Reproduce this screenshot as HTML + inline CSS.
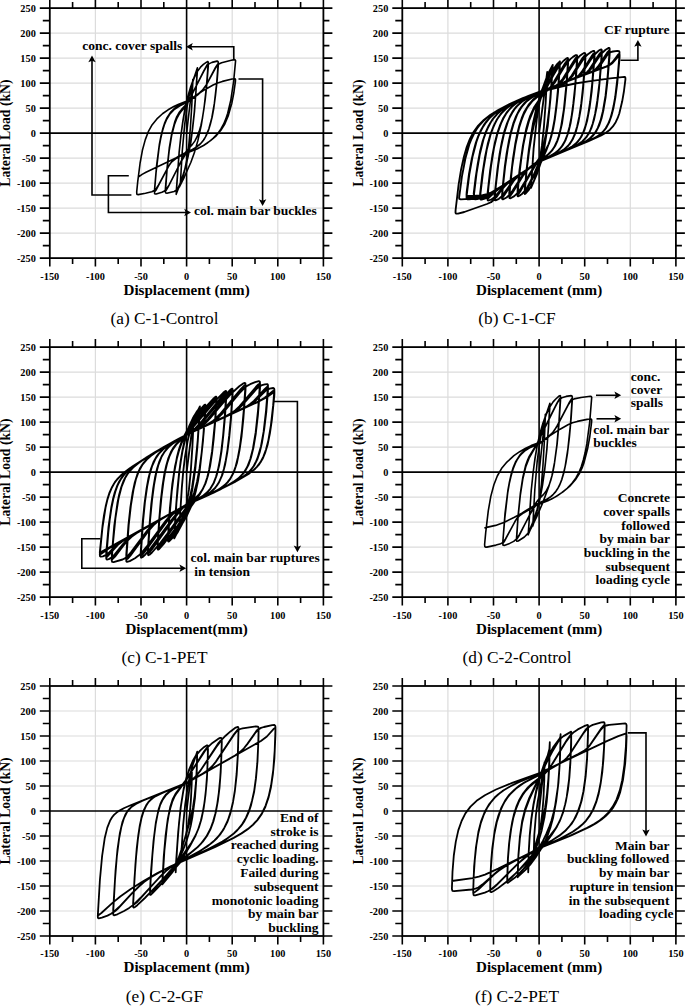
<!DOCTYPE html>
<html><head><meta charset="utf-8"><style>
html,body{margin:0;padding:0;background:#fff;width:685px;height:1008px;overflow:hidden}
svg{display:block}
text{font-family:"Liberation Serif",serif;fill:#000}
.tl text{font-weight:bold;font-size:10.3px}
.at{font-weight:bold;font-size:15.1px}
.cap{font-size:17.3px}
.an{font-weight:bold;font-size:13.5px}
</style></head><body>
<svg width="685" height="1008" viewBox="0 0 685 1008">
<rect width="685" height="1008" fill="#fff"/>
<path d="M95.4 8.1V258.1M141 8.1V258.1M232.2 8.1V258.1M277.8 8.1V258.1M49.8 233.1H323.4M49.8 208.1H323.4M49.8 183.1H323.4M49.8 158.1H323.4M49.8 108.1H323.4M49.8 83.1H323.4M49.8 58.1H323.4M49.8 33.1H323.4" stroke="#dcdcdc" stroke-width="1.2" fill="none"/>
<path d="M186.6 8.1V258.1M49.8 133.1H323.4" stroke="#000" stroke-width="1.6" fill="none"/>
<path d="M39.8 258.1H49.8M323.4 258.1H332.4M42.8 245.6H49.8M323.4 245.6H329.4M39.8 233.1H49.8M323.4 233.1H332.4M42.8 220.6H49.8M323.4 220.6H329.4M39.8 208.1H49.8M323.4 208.1H332.4M42.8 195.6H49.8M323.4 195.6H329.4M39.8 183.1H49.8M323.4 183.1H332.4M42.8 170.6H49.8M323.4 170.6H329.4M39.8 158.1H49.8M323.4 158.1H332.4M42.8 145.6H49.8M323.4 145.6H329.4M39.8 133.1H49.8M323.4 133.1H332.4M42.8 120.6H49.8M323.4 120.6H329.4M39.8 108.1H49.8M323.4 108.1H332.4M42.8 95.6H49.8M323.4 95.6H329.4M39.8 83.1H49.8M323.4 83.1H332.4M42.8 70.6H49.8M323.4 70.6H329.4M39.8 58.1H49.8M323.4 58.1H332.4M42.8 45.6H49.8M323.4 45.6H329.4M39.8 33.1H49.8M323.4 33.1H332.4M42.8 20.6H49.8M323.4 20.6H329.4M39.8 8.1H49.8M323.4 8.1H332.4M49.8 0.1V8.1M49.8 258.1V266.6M72.6 2.1V8.1M72.6 258.1V264.1M95.4 0.1V8.1M95.4 258.1V266.6M118.2 2.1V8.1M118.2 258.1V264.1M141 0.1V8.1M141 258.1V266.6M163.8 2.1V8.1M163.8 258.1V264.1M186.6 0.1V8.1M186.6 258.1V266.6M209.4 2.1V8.1M209.4 258.1V264.1M232.2 0.1V8.1M232.2 258.1V266.6M255 2.1V8.1M255 258.1V264.1M277.8 0.1V8.1M277.8 258.1V266.6M300.6 2.1V8.1M300.6 258.1V264.1M323.4 0.1V8.1M323.4 258.1V266.6" stroke="#000" stroke-width="1.6" fill="none"/>
<rect x="49.8" y="8.1" width="273.6" height="250" stroke="#000" stroke-width="1.8" fill="none"/>
<g class="tl"><text x="35.8" y="261.6" text-anchor="end">-250</text><text x="35.8" y="236.6" text-anchor="end">-200</text><text x="35.8" y="211.6" text-anchor="end">-150</text><text x="35.8" y="186.6" text-anchor="end">-100</text><text x="35.8" y="161.6" text-anchor="end">-50</text><text x="35.8" y="136.6" text-anchor="end">0</text><text x="35.8" y="111.6" text-anchor="end">50</text><text x="35.8" y="86.6" text-anchor="end">100</text><text x="35.8" y="61.6" text-anchor="end">150</text><text x="35.8" y="36.6" text-anchor="end">200</text><text x="35.8" y="11.6" text-anchor="end">250</text><text x="49.8" y="279.5" text-anchor="middle">-150</text><text x="95.4" y="279.5" text-anchor="middle">-100</text><text x="141" y="279.5" text-anchor="middle">-50</text><text x="186.6" y="279.5" text-anchor="middle">0</text><text x="232.2" y="279.5" text-anchor="middle">50</text><text x="277.8" y="279.5" text-anchor="middle">100</text><text x="323.4" y="279.5" text-anchor="middle">150</text></g>
<text class="at" x="186.6" y="294.5" text-anchor="middle">Displacement (mm)</text>
<text class="at" transform="translate(10.3 133.1) rotate(-90)" text-anchor="middle" style="font-size:13.7px">Lateral Load (kN)</text>
<text class="cap" x="164.5" y="324.4" text-anchor="middle">(a) C-1-Control</text>
<path d="M447.9 8.1V258.1M493.5 8.1V258.1M584.7 8.1V258.1M630.3 8.1V258.1M402.3 233.1H675.9M402.3 208.1H675.9M402.3 183.1H675.9M402.3 158.1H675.9M402.3 108.1H675.9M402.3 83.1H675.9M402.3 58.1H675.9M402.3 33.1H675.9" stroke="#dcdcdc" stroke-width="1.2" fill="none"/>
<path d="M539.1 8.1V258.1M402.3 133.1H675.9" stroke="#000" stroke-width="1.6" fill="none"/>
<path d="M392.3 258.1H402.3M675.9 258.1H684.9M395.3 245.6H402.3M675.9 245.6H681.9M392.3 233.1H402.3M675.9 233.1H684.9M395.3 220.6H402.3M675.9 220.6H681.9M392.3 208.1H402.3M675.9 208.1H684.9M395.3 195.6H402.3M675.9 195.6H681.9M392.3 183.1H402.3M675.9 183.1H684.9M395.3 170.6H402.3M675.9 170.6H681.9M392.3 158.1H402.3M675.9 158.1H684.9M395.3 145.6H402.3M675.9 145.6H681.9M392.3 133.1H402.3M675.9 133.1H684.9M395.3 120.6H402.3M675.9 120.6H681.9M392.3 108.1H402.3M675.9 108.1H684.9M395.3 95.6H402.3M675.9 95.6H681.9M392.3 83.1H402.3M675.9 83.1H684.9M395.3 70.6H402.3M675.9 70.6H681.9M392.3 58.1H402.3M675.9 58.1H684.9M395.3 45.6H402.3M675.9 45.6H681.9M392.3 33.1H402.3M675.9 33.1H684.9M395.3 20.6H402.3M675.9 20.6H681.9M392.3 8.1H402.3M675.9 8.1H684.9M402.3 0.1V8.1M402.3 258.1V266.6M425.1 2.1V8.1M425.1 258.1V264.1M447.9 0.1V8.1M447.9 258.1V266.6M470.7 2.1V8.1M470.7 258.1V264.1M493.5 0.1V8.1M493.5 258.1V266.6M516.3 2.1V8.1M516.3 258.1V264.1M539.1 0.1V8.1M539.1 258.1V266.6M561.9 2.1V8.1M561.9 258.1V264.1M584.7 0.1V8.1M584.7 258.1V266.6M607.5 2.1V8.1M607.5 258.1V264.1M630.3 0.1V8.1M630.3 258.1V266.6M653.1 2.1V8.1M653.1 258.1V264.1M675.9 0.1V8.1M675.9 258.1V266.6" stroke="#000" stroke-width="1.6" fill="none"/>
<rect x="402.3" y="8.1" width="273.6" height="250" stroke="#000" stroke-width="1.8" fill="none"/>
<g class="tl"><text x="388.3" y="261.6" text-anchor="end">-250</text><text x="388.3" y="236.6" text-anchor="end">-200</text><text x="388.3" y="211.6" text-anchor="end">-150</text><text x="388.3" y="186.6" text-anchor="end">-100</text><text x="388.3" y="161.6" text-anchor="end">-50</text><text x="388.3" y="136.6" text-anchor="end">0</text><text x="388.3" y="111.6" text-anchor="end">50</text><text x="388.3" y="86.6" text-anchor="end">100</text><text x="388.3" y="61.6" text-anchor="end">150</text><text x="388.3" y="36.6" text-anchor="end">200</text><text x="388.3" y="11.6" text-anchor="end">250</text><text x="402.3" y="279.5" text-anchor="middle">-150</text><text x="447.9" y="279.5" text-anchor="middle">-100</text><text x="493.5" y="279.5" text-anchor="middle">-50</text><text x="539.1" y="279.5" text-anchor="middle">0</text><text x="584.7" y="279.5" text-anchor="middle">50</text><text x="630.3" y="279.5" text-anchor="middle">100</text><text x="675.9" y="279.5" text-anchor="middle">150</text></g>
<text class="at" x="539.1" y="294.5" text-anchor="middle">Displacement (mm)</text>
<text class="at" transform="translate(362.8 133.1) rotate(-90)" text-anchor="middle" style="font-size:13.7px">Lateral Load (kN)</text>
<text class="cap" x="517" y="324.4" text-anchor="middle">(b) C-1-CF</text>
<path d="M95.4 347.1V597.1M141 347.1V597.1M232.2 347.1V597.1M277.8 347.1V597.1M49.8 572.1H323.4M49.8 547.1H323.4M49.8 522.1H323.4M49.8 497.1H323.4M49.8 447.1H323.4M49.8 422.1H323.4M49.8 397.1H323.4M49.8 372.1H323.4" stroke="#dcdcdc" stroke-width="1.2" fill="none"/>
<path d="M186.6 347.1V597.1M49.8 472.1H323.4" stroke="#000" stroke-width="1.6" fill="none"/>
<path d="M39.8 597.1H49.8M323.4 597.1H332.4M42.8 584.6H49.8M323.4 584.6H329.4M39.8 572.1H49.8M323.4 572.1H332.4M42.8 559.6H49.8M323.4 559.6H329.4M39.8 547.1H49.8M323.4 547.1H332.4M42.8 534.6H49.8M323.4 534.6H329.4M39.8 522.1H49.8M323.4 522.1H332.4M42.8 509.6H49.8M323.4 509.6H329.4M39.8 497.1H49.8M323.4 497.1H332.4M42.8 484.6H49.8M323.4 484.6H329.4M39.8 472.1H49.8M323.4 472.1H332.4M42.8 459.6H49.8M323.4 459.6H329.4M39.8 447.1H49.8M323.4 447.1H332.4M42.8 434.6H49.8M323.4 434.6H329.4M39.8 422.1H49.8M323.4 422.1H332.4M42.8 409.6H49.8M323.4 409.6H329.4M39.8 397.1H49.8M323.4 397.1H332.4M42.8 384.6H49.8M323.4 384.6H329.4M39.8 372.1H49.8M323.4 372.1H332.4M42.8 359.6H49.8M323.4 359.6H329.4M39.8 347.1H49.8M323.4 347.1H332.4M49.8 339.1V347.1M49.8 597.1V605.6M72.6 341.1V347.1M72.6 597.1V603.1M95.4 339.1V347.1M95.4 597.1V605.6M118.2 341.1V347.1M118.2 597.1V603.1M141 339.1V347.1M141 597.1V605.6M163.8 341.1V347.1M163.8 597.1V603.1M186.6 339.1V347.1M186.6 597.1V605.6M209.4 341.1V347.1M209.4 597.1V603.1M232.2 339.1V347.1M232.2 597.1V605.6M255 341.1V347.1M255 597.1V603.1M277.8 339.1V347.1M277.8 597.1V605.6M300.6 341.1V347.1M300.6 597.1V603.1M323.4 339.1V347.1M323.4 597.1V605.6" stroke="#000" stroke-width="1.6" fill="none"/>
<rect x="49.8" y="347.1" width="273.6" height="250" stroke="#000" stroke-width="1.8" fill="none"/>
<g class="tl"><text x="35.8" y="600.6" text-anchor="end">-250</text><text x="35.8" y="575.6" text-anchor="end">-200</text><text x="35.8" y="550.6" text-anchor="end">-150</text><text x="35.8" y="525.6" text-anchor="end">-100</text><text x="35.8" y="500.6" text-anchor="end">-50</text><text x="35.8" y="475.6" text-anchor="end">0</text><text x="35.8" y="450.6" text-anchor="end">50</text><text x="35.8" y="425.6" text-anchor="end">100</text><text x="35.8" y="400.6" text-anchor="end">150</text><text x="35.8" y="375.6" text-anchor="end">200</text><text x="35.8" y="350.6" text-anchor="end">250</text><text x="49.8" y="618.5" text-anchor="middle">-150</text><text x="95.4" y="618.5" text-anchor="middle">-100</text><text x="141" y="618.5" text-anchor="middle">-50</text><text x="186.6" y="618.5" text-anchor="middle">0</text><text x="232.2" y="618.5" text-anchor="middle">50</text><text x="277.8" y="618.5" text-anchor="middle">100</text><text x="323.4" y="618.5" text-anchor="middle">150</text></g>
<text class="at" x="186.6" y="633.5" text-anchor="middle">Displacement(mm)</text>
<text class="at" transform="translate(10.3 472.1) rotate(-90)" text-anchor="middle" style="font-size:13.7px">Lateral Load (kN)</text>
<text class="cap" x="164.5" y="663.4" text-anchor="middle">(c) C-1-PET</text>
<path d="M447.9 347.1V597.1M493.5 347.1V597.1M584.7 347.1V597.1M630.3 347.1V597.1M402.3 572.1H675.9M402.3 547.1H675.9M402.3 522.1H675.9M402.3 497.1H675.9M402.3 447.1H675.9M402.3 422.1H675.9M402.3 397.1H675.9M402.3 372.1H675.9" stroke="#dcdcdc" stroke-width="1.2" fill="none"/>
<path d="M539.1 347.1V597.1M402.3 472.1H675.9" stroke="#000" stroke-width="1.6" fill="none"/>
<path d="M392.3 597.1H402.3M675.9 597.1H684.9M395.3 584.6H402.3M675.9 584.6H681.9M392.3 572.1H402.3M675.9 572.1H684.9M395.3 559.6H402.3M675.9 559.6H681.9M392.3 547.1H402.3M675.9 547.1H684.9M395.3 534.6H402.3M675.9 534.6H681.9M392.3 522.1H402.3M675.9 522.1H684.9M395.3 509.6H402.3M675.9 509.6H681.9M392.3 497.1H402.3M675.9 497.1H684.9M395.3 484.6H402.3M675.9 484.6H681.9M392.3 472.1H402.3M675.9 472.1H684.9M395.3 459.6H402.3M675.9 459.6H681.9M392.3 447.1H402.3M675.9 447.1H684.9M395.3 434.6H402.3M675.9 434.6H681.9M392.3 422.1H402.3M675.9 422.1H684.9M395.3 409.6H402.3M675.9 409.6H681.9M392.3 397.1H402.3M675.9 397.1H684.9M395.3 384.6H402.3M675.9 384.6H681.9M392.3 372.1H402.3M675.9 372.1H684.9M395.3 359.6H402.3M675.9 359.6H681.9M392.3 347.1H402.3M675.9 347.1H684.9M402.3 339.1V347.1M402.3 597.1V605.6M425.1 341.1V347.1M425.1 597.1V603.1M447.9 339.1V347.1M447.9 597.1V605.6M470.7 341.1V347.1M470.7 597.1V603.1M493.5 339.1V347.1M493.5 597.1V605.6M516.3 341.1V347.1M516.3 597.1V603.1M539.1 339.1V347.1M539.1 597.1V605.6M561.9 341.1V347.1M561.9 597.1V603.1M584.7 339.1V347.1M584.7 597.1V605.6M607.5 341.1V347.1M607.5 597.1V603.1M630.3 339.1V347.1M630.3 597.1V605.6M653.1 341.1V347.1M653.1 597.1V603.1M675.9 339.1V347.1M675.9 597.1V605.6" stroke="#000" stroke-width="1.6" fill="none"/>
<rect x="402.3" y="347.1" width="273.6" height="250" stroke="#000" stroke-width="1.8" fill="none"/>
<g class="tl"><text x="388.3" y="600.6" text-anchor="end">-250</text><text x="388.3" y="575.6" text-anchor="end">-200</text><text x="388.3" y="550.6" text-anchor="end">-150</text><text x="388.3" y="525.6" text-anchor="end">-100</text><text x="388.3" y="500.6" text-anchor="end">-50</text><text x="388.3" y="475.6" text-anchor="end">0</text><text x="388.3" y="450.6" text-anchor="end">50</text><text x="388.3" y="425.6" text-anchor="end">100</text><text x="388.3" y="400.6" text-anchor="end">150</text><text x="388.3" y="375.6" text-anchor="end">200</text><text x="388.3" y="350.6" text-anchor="end">250</text><text x="402.3" y="618.5" text-anchor="middle">-150</text><text x="447.9" y="618.5" text-anchor="middle">-100</text><text x="493.5" y="618.5" text-anchor="middle">-50</text><text x="539.1" y="618.5" text-anchor="middle">0</text><text x="584.7" y="618.5" text-anchor="middle">50</text><text x="630.3" y="618.5" text-anchor="middle">100</text><text x="675.9" y="618.5" text-anchor="middle">150</text></g>
<text class="at" x="539.1" y="633.5" text-anchor="middle">Displacement (mm)</text>
<text class="at" transform="translate(362.8 472.1) rotate(-90)" text-anchor="middle" style="font-size:13.7px">Lateral Load (kN)</text>
<text class="cap" x="517" y="663.4" text-anchor="middle">(d) C-2-Control</text>
<path d="M95.4 686V936M141 686V936M232.2 686V936M277.8 686V936M49.8 911H323.4M49.8 886H323.4M49.8 861H323.4M49.8 836H323.4M49.8 786H323.4M49.8 761H323.4M49.8 736H323.4M49.8 711H323.4" stroke="#dcdcdc" stroke-width="1.2" fill="none"/>
<path d="M186.6 686V936M49.8 811H323.4" stroke="#000" stroke-width="1.6" fill="none"/>
<path d="M39.8 936H49.8M323.4 936H332.4M42.8 923.5H49.8M323.4 923.5H329.4M39.8 911H49.8M323.4 911H332.4M42.8 898.5H49.8M323.4 898.5H329.4M39.8 886H49.8M323.4 886H332.4M42.8 873.5H49.8M323.4 873.5H329.4M39.8 861H49.8M323.4 861H332.4M42.8 848.5H49.8M323.4 848.5H329.4M39.8 836H49.8M323.4 836H332.4M42.8 823.5H49.8M323.4 823.5H329.4M39.8 811H49.8M323.4 811H332.4M42.8 798.5H49.8M323.4 798.5H329.4M39.8 786H49.8M323.4 786H332.4M42.8 773.5H49.8M323.4 773.5H329.4M39.8 761H49.8M323.4 761H332.4M42.8 748.5H49.8M323.4 748.5H329.4M39.8 736H49.8M323.4 736H332.4M42.8 723.5H49.8M323.4 723.5H329.4M39.8 711H49.8M323.4 711H332.4M42.8 698.5H49.8M323.4 698.5H329.4M39.8 686H49.8M323.4 686H332.4M49.8 678V686M49.8 936V944.5M72.6 680V686M72.6 936V942M95.4 678V686M95.4 936V944.5M118.2 680V686M118.2 936V942M141 678V686M141 936V944.5M163.8 680V686M163.8 936V942M186.6 678V686M186.6 936V944.5M209.4 680V686M209.4 936V942M232.2 678V686M232.2 936V944.5M255 680V686M255 936V942M277.8 678V686M277.8 936V944.5M300.6 680V686M300.6 936V942M323.4 678V686M323.4 936V944.5" stroke="#000" stroke-width="1.6" fill="none"/>
<rect x="49.8" y="686" width="273.6" height="250" stroke="#000" stroke-width="1.8" fill="none"/>
<g class="tl"><text x="35.8" y="939.5" text-anchor="end">-250</text><text x="35.8" y="914.5" text-anchor="end">-200</text><text x="35.8" y="889.5" text-anchor="end">-150</text><text x="35.8" y="864.5" text-anchor="end">-100</text><text x="35.8" y="839.5" text-anchor="end">-50</text><text x="35.8" y="814.5" text-anchor="end">0</text><text x="35.8" y="789.5" text-anchor="end">50</text><text x="35.8" y="764.5" text-anchor="end">100</text><text x="35.8" y="739.5" text-anchor="end">150</text><text x="35.8" y="714.5" text-anchor="end">200</text><text x="35.8" y="689.5" text-anchor="end">250</text><text x="49.8" y="957.4" text-anchor="middle">-150</text><text x="95.4" y="957.4" text-anchor="middle">-100</text><text x="141" y="957.4" text-anchor="middle">-50</text><text x="186.6" y="957.4" text-anchor="middle">0</text><text x="232.2" y="957.4" text-anchor="middle">50</text><text x="277.8" y="957.4" text-anchor="middle">100</text><text x="323.4" y="957.4" text-anchor="middle">150</text></g>
<text class="at" x="186.6" y="972.4" text-anchor="middle">Displacement (mm)</text>
<text class="at" transform="translate(10.3 811) rotate(-90)" text-anchor="middle" style="font-size:13.7px">Lateral Load (kN)</text>
<text class="cap" x="164.5" y="1002.3" text-anchor="middle">(e) C-2-GF</text>
<path d="M447.9 686V936M493.5 686V936M584.7 686V936M630.3 686V936M402.3 911H675.9M402.3 886H675.9M402.3 861H675.9M402.3 836H675.9M402.3 786H675.9M402.3 761H675.9M402.3 736H675.9M402.3 711H675.9" stroke="#dcdcdc" stroke-width="1.2" fill="none"/>
<path d="M539.1 686V936M402.3 811H675.9" stroke="#000" stroke-width="1.6" fill="none"/>
<path d="M392.3 936H402.3M675.9 936H684.9M395.3 923.5H402.3M675.9 923.5H681.9M392.3 911H402.3M675.9 911H684.9M395.3 898.5H402.3M675.9 898.5H681.9M392.3 886H402.3M675.9 886H684.9M395.3 873.5H402.3M675.9 873.5H681.9M392.3 861H402.3M675.9 861H684.9M395.3 848.5H402.3M675.9 848.5H681.9M392.3 836H402.3M675.9 836H684.9M395.3 823.5H402.3M675.9 823.5H681.9M392.3 811H402.3M675.9 811H684.9M395.3 798.5H402.3M675.9 798.5H681.9M392.3 786H402.3M675.9 786H684.9M395.3 773.5H402.3M675.9 773.5H681.9M392.3 761H402.3M675.9 761H684.9M395.3 748.5H402.3M675.9 748.5H681.9M392.3 736H402.3M675.9 736H684.9M395.3 723.5H402.3M675.9 723.5H681.9M392.3 711H402.3M675.9 711H684.9M395.3 698.5H402.3M675.9 698.5H681.9M392.3 686H402.3M675.9 686H684.9M402.3 678V686M402.3 936V944.5M425.1 680V686M425.1 936V942M447.9 678V686M447.9 936V944.5M470.7 680V686M470.7 936V942M493.5 678V686M493.5 936V944.5M516.3 680V686M516.3 936V942M539.1 678V686M539.1 936V944.5M561.9 680V686M561.9 936V942M584.7 678V686M584.7 936V944.5M607.5 680V686M607.5 936V942M630.3 678V686M630.3 936V944.5M653.1 680V686M653.1 936V942M675.9 678V686M675.9 936V944.5" stroke="#000" stroke-width="1.6" fill="none"/>
<rect x="402.3" y="686" width="273.6" height="250" stroke="#000" stroke-width="1.8" fill="none"/>
<g class="tl"><text x="388.3" y="939.5" text-anchor="end">-250</text><text x="388.3" y="914.5" text-anchor="end">-200</text><text x="388.3" y="889.5" text-anchor="end">-150</text><text x="388.3" y="864.5" text-anchor="end">-100</text><text x="388.3" y="839.5" text-anchor="end">-50</text><text x="388.3" y="814.5" text-anchor="end">0</text><text x="388.3" y="789.5" text-anchor="end">50</text><text x="388.3" y="764.5" text-anchor="end">100</text><text x="388.3" y="739.5" text-anchor="end">150</text><text x="388.3" y="714.5" text-anchor="end">200</text><text x="388.3" y="689.5" text-anchor="end">250</text><text x="402.3" y="957.4" text-anchor="middle">-150</text><text x="447.9" y="957.4" text-anchor="middle">-100</text><text x="493.5" y="957.4" text-anchor="middle">-50</text><text x="539.1" y="957.4" text-anchor="middle">0</text><text x="584.7" y="957.4" text-anchor="middle">50</text><text x="630.3" y="957.4" text-anchor="middle">100</text><text x="675.9" y="957.4" text-anchor="middle">150</text></g>
<text class="at" x="539.1" y="972.4" text-anchor="middle">Displacement (mm)</text>
<text class="at" transform="translate(362.8 811) rotate(-90)" text-anchor="middle" style="font-size:13.7px">Lateral Load (kN)</text>
<text class="cap" x="517" y="1002.3" text-anchor="middle">(f) C-2-PET</text>
<path d="M186.6,133.1 192.9,79.4 191.8,105.2 190.4,127.7 188.8,145.1 187.0,159.0 184.1,172.7 180.3,184.4 182.3,150.8 184.7,124.4 187.1,106.5 189.7,93.3 192.7,81.7 197.4,67.8 196.0,91.1 194.3,112.1 192.4,129.5 190.3,144.3 187.9,156.6 184.3,171.1 180.8,182.1 176.2,194.3 179.1,152.6 180.9,135.7 182.8,121.3 184.9,109.0 187.6,97.3 190.7,86.7 194.3,76.8 197.4,69.8 197.4,70.7 194.5,111.5 192.7,127.9 190.9,141.8 188.1,156.5 184.7,170.1 180.4,182.9 176.2,192.4 179.2,151.6 181.0,135.2 183.0,120.8 185.2,108.5 187.8,97.3 190.8,87.3 194.2,77.9 197.3,71.6 200.5,67.2 203.4,64.4 206.6,62.1 207.8,61.5 208.3,62.4 206.5,86.1 204.1,107.5 201.3,125.2 197.8,140.9 194.6,151.9 190.9,162.2 184.2,177.3 179.3,187.1 177.1,189.8 174.1,191.5 166.9,193.2 165.9,193.0 165.4,192.1 166.9,171.4 169.2,150.5 171.7,135.2 174.6,124.1 176.6,119.0 178.9,114.6 180.9,111.7 185.5,106.4 187.9,102.6 203.5,71.3 207.1,64.8 208.1,63.9 208.3,65.9 206.8,84.3 205.2,99.7 202.5,118.0 200.9,125.4 199.1,131.6 197.1,136.7 194.8,141.1 192.4,144.4 187.7,149.5 185.4,152.8 168.3,186.7 166.1,190.4 165.6,190.7 165.3,190.1 167.1,167.8 169.3,148.0 171.8,133.2 174.7,122.1 176.7,116.9 179.1,112.6 181.6,109.4 186.3,104.3 188.8,100.5 203.6,71.6 206.6,66.4 208.9,63.9 212.0,62.4 217.1,61.1 218.0,61.5 218.3,62.5 216.6,83.8 214.4,103.2 211.8,117.9 208.8,129.0 205.5,136.8 203.4,140.2 201.2,143.0 196.3,147.2 187.7,152.2 184.7,155.5 180.9,162.0 169.0,185.1 166.3,189.3 164.5,191.0 161.9,192.3 156.2,194.0 155.1,194.0 154.6,193.6 154.5,191.1 156.1,172.2 159.1,147.4 160.7,138.5 162.4,131.2 164.3,125.0 166.4,119.9 170.0,113.9 174.5,109.3 179.5,106.0 188.0,101.9 197.7,94.8 201.8,91.2 206.2,85.1 215.5,67.4 217.8,64.0 218.2,63.9 218.3,65.3 217.2,79.7 215.5,95.1 213.8,108.0 212.2,116.8 210.4,124.1 208.5,130.3 206.3,135.4 204.4,138.9 202.3,141.7 200.0,144.3 197.3,146.5 193.1,149.2 185.8,152.4 178.3,156.5 175.0,158.7 172.4,161.0 170.2,163.7 167.9,167.6 156.3,189.7 154.8,191.6 154.6,191.6 154.4,191.2 156.6,165.5 159.4,144.2 161.0,135.9 162.7,129.1 164.5,123.4 166.7,118.3 170.5,112.4 175.1,107.9 179.7,104.9 187.8,101.2 198.0,94.0 202.2,90.4 206.4,84.8 215.2,68.6 217.8,64.9 219.4,63.7 221.6,62.7 231.3,60.2 234.5,59.6 235.1,59.8 235.6,60.6 233.7,80.8 230.9,99.6 227.7,113.2 225.8,118.9 223.7,124.0 220.8,129.2 217.2,134.1 213.1,138.4 208.0,142.5 203.5,145.5 198.2,148.4 193.2,150.6 186.1,153.2 180.8,155.9 175.6,158.9 172.4,161.3 170.4,163.5 168.5,166.4 158.1,185.8 156.5,188.3 154.8,190.2 151.8,191.7 145.5,193.2 138.2,194.6 137.2,194.5 136.8,194.0 136.7,191.8 137.7,181.9 140.1,163.0 142.4,150.3 145.3,139.6 148.3,131.7 152.2,124.7 156.9,118.9 162.8,113.5 168.1,109.8 173.8,106.5 178.7,104.2 187.6,100.8 204.8,89.7 213.1,85.0 217.6,83.0 222.4,81.4 232.1,79.0 234.7,78.6 235.2,78.9 235.5,79.5 235.4,81.7 233.7,93.6 231.8,103.4 228.4,115.4 224.5,124.6 220.7,130.5 216.2,135.8 210.5,140.7 203.9,145.3 196.9,149.0 185.3,153.5 146.0,172.3 142.1,174.4 138.3,177.1" fill="none" stroke="#000" stroke-width="1.6" stroke-linejoin="round"/>
<path d="M539.1,133.1 547.2,72.0 545.7,102.0 543.9,127.0 541.9,145.9 539.5,161.1 537.7,169.0 535.8,175.7 533.8,181.4 531.0,187.8 533.6,148.6 536.8,118.8 539.8,101.0 543.2,86.9 547.6,74.7 552.7,64.9 550.5,98.1 547.8,125.5 544.6,146.2 542.8,155.0 540.8,162.8 536.9,174.1 532.9,183.3 528.4,190.5 525.5,193.7 524.9,194.0 524.7,193.8 526.0,176.3 528.1,155.9 530.4,139.1 532.9,123.8 536.6,107.2 541.2,91.9 547.2,77.0 550.0,71.2 552.7,66.7 549.7,105.1 547.9,121.0 545.9,134.4 543.7,145.7 541.3,155.4 538.1,165.4 534.6,174.2 527.8,188.1 525.3,192.1 524.8,192.4 524.7,191.8 526.5,170.1 528.8,150.2 531.4,132.9 534.5,117.2 537.9,103.6 542.5,89.9 548.4,76.1 552.5,68.3 552.7,68.6 549.6,106.2 547.7,121.6 545.7,134.9 543.4,146.2 540.8,155.9 537.5,165.8 533.6,175.0 527.3,187.5 525.1,190.8 524.8,190.9 524.7,190.2 526.7,170.0 529.0,151.7 531.7,135.4 535.1,119.2 537.6,109.0 540.6,99.0 543.5,90.4 546.6,82.5 550.0,75.3 553.4,69.2 556.6,64.7 559.9,61.3 558.6,82.5 556.6,103.5 554.6,119.3 552.2,132.1 549.7,141.3 546.4,150.2 540.9,162.5 533.8,176.3 528.1,186.2 524.3,191.5 521.9,194.0 519.5,195.7 518.1,196.3 517.7,196.1 517.5,195.5 518.9,178.8 521.1,159.9 523.3,145.1 525.9,132.3 529.2,120.3 533.0,111.1 540.5,98.1 555.2,69.7 558.9,63.8 559.7,63.0 559.9,63.5 557.8,92.6 555.2,116.0 552.2,132.7 550.4,139.0 548.4,144.6 545.4,150.4 537.7,161.4 520.9,190.4 519.0,193.3 517.7,194.5 517.4,194.0 517.5,192.8 519.0,176.9 522.4,150.1 524.4,138.8 526.6,129.0 528.9,120.8 531.6,113.8 534.8,107.6 542.3,95.8 555.7,70.7 558.3,66.4 559.7,64.8 559.8,67.4 558.0,92.4 556.4,107.3 554.8,119.7 553.1,129.0 551.2,136.8 549.2,143.0 546.6,148.4 544.2,152.2 537.4,160.8 520.7,189.2 518.4,192.4 517.8,192.9 517.5,192.7 517.7,188.3 519.6,169.4 522.9,145.6 526.3,128.5 528.2,121.7 530.3,115.6 534.3,107.0 543.0,94.1 553.1,75.7 557.7,68.0 560.6,64.0 563.3,61.0 566.7,58.3 567.6,58.0 568.0,58.3 568.0,61.2 566.5,83.7 563.8,110.0 560.9,127.8 559.3,134.6 557.4,140.3 554.5,146.7 551.1,151.5 547.1,155.3 539.3,160.8 535.7,164.8 531.5,171.0 521.1,188.1 517.9,192.6 514.3,196.1 510.6,198.3 509.5,198.1 509.3,195.8 512.1,167.4 515.4,145.1 519.0,128.0 521.2,120.9 523.5,114.8 527.4,107.3 532.1,101.4 536.6,97.5 546.6,90.9 550.2,87.4 554.1,81.6 564.9,63.6 567.4,60.2 567.9,60.1 568.1,61.3 567.0,78.2 564.8,102.6 562.3,121.0 559.3,134.6 557.7,139.9 555.8,144.5 552.7,149.6 549.0,153.7 545.5,156.4 537.4,161.4 531.1,166.4 527.2,170.2 522.7,176.2 512.5,192.8 510.0,196.2 509.4,196.4 509.2,195.2 510.4,182.3 512.5,163.5 514.8,147.6 516.7,137.3 518.9,128.1 521.2,120.4 523.8,113.9 527.6,106.9 532.3,101.1 536.9,97.3 547.9,90.3 551.5,86.9 555.2,81.5 565.0,65.3 567.5,62.0 568.0,62.0 568.1,63.4 566.7,83.8 564.5,106.2 562.0,123.5 559.0,136.2 557.2,141.4 555.4,145.5 552.4,150.1 548.7,154.1 545.1,156.7 537.4,161.4 529.9,167.2 525.9,171.0 521.3,176.9 512.1,191.8 509.9,194.7 509.4,194.7 509.2,193.4 510.8,177.0 512.9,159.2 515.2,144.3 517.2,134.0 519.4,125.3 521.7,118.2 524.4,111.7 528.5,104.9 533.1,99.6 537.9,96.0 548.1,89.7 551.5,86.7 554.8,82.4 563.9,67.5 568.0,61.7 570.3,59.1 573.0,56.9 575.8,55.1 576.9,55.1 577.2,56.0 577.1,58.3 575.1,86.8 573.3,103.7 571.5,117.0 569.5,126.9 567.3,135.1 564.7,141.5 561.6,146.7 558.7,150.1 554.8,153.2 549.2,156.5 538.8,161.4 531.9,166.3 527.6,169.7 524.5,172.9 521.7,176.5 512.5,190.8 509.9,194.4 506.6,197.5 502.9,199.4 502.2,199.1 501.9,198.1 502.7,188.7 505.1,166.9 507.7,149.0 510.6,134.3 513.9,122.8 517.6,113.5 522.1,106.3 526.8,101.2 532.5,97.1 541.4,92.5 554.1,86.7 558.7,83.7 562.8,78.8 574.1,60.5 575.8,58.0 576.8,57.1 577.2,57.4 577.2,59.6 575.2,87.0 573.4,104.4 571.4,118.2 569.4,128.0 567.0,136.2 564.5,142.2 561.3,147.2 558.2,150.5 554.7,153.3 549.5,156.3 538.3,161.7 524.4,171.4 518.8,175.7 515.9,178.5 513.3,181.5 504.2,195.3 502.8,197.1 502.2,197.4 501.9,196.8 502.1,194.5 504.4,171.1 506.4,156.2 508.6,143.4 511.4,130.7 514.6,120.2 518.3,112.0 522.7,105.4 527.3,100.7 533.0,96.7 542.4,92.0 555.6,86.1 559.8,83.5 561.9,81.4 564.0,78.6 574.3,62.0 576.0,59.7 576.9,59.0 577.2,60.0 576.9,65.4 574.6,93.8 572.7,110.2 570.6,123.0 568.4,132.3 565.7,139.8 562.6,145.5 558.8,150.1 555.7,152.6 551.9,155.0 538.0,161.9 518.5,175.8 515.5,178.4 512.7,181.3 509.7,185.3 503.7,194.5 502.6,195.7 502.1,195.7 502.5,188.4 504.7,167.5 506.6,153.6 508.8,141.3 511.0,131.6 513.3,123.4 516.0,116.4 518.9,110.6 521.4,106.8 524.2,103.3 527.1,100.6 530.7,97.9 537.2,94.2 555.9,85.8 560.1,83.2 562.2,81.0 564.3,78.3 573.7,63.5 577.2,58.6 579.6,56.1 582.0,54.2 584.0,53.0 585.1,53.1 585.4,54.0 585.4,56.4 583.1,86.3 581.3,103.2 579.3,116.5 577.2,126.3 574.7,134.4 572.0,140.3 568.6,145.2 564.6,149.0 559.5,152.2 553.7,155.1 538.2,162.0 519.4,175.2 515.5,178.4 512.4,181.7 501.9,196.2 498.9,198.8 495.6,200.4 494.8,200.1 494.7,198.6 495.9,185.2 498.3,164.9 500.9,148.1 504.1,133.4 507.8,122.0 509.7,117.4 512.1,113.0 514.5,109.2 517.1,106.1 522.6,101.1 529.9,96.7 535.3,94.2 561.7,83.5 567.0,80.6 569.2,78.6 571.7,75.5 582.5,58.1 585.0,55.1 585.4,55.5 585.4,57.6 583.2,86.5 581.3,103.9 579.2,117.7 577.0,127.5 574.6,135.1 571.7,140.9 568.2,145.7 564.5,149.1 559.4,152.3 553.6,155.2 538.5,161.9 512.2,180.0 507.4,183.7 504.2,186.8 501.3,190.2 496.4,197.1 495.0,198.4 494.7,198.0 494.7,195.9 497.3,171.5 499.5,155.7 501.9,142.4 505.0,129.8 508.7,119.4 512.9,111.5 515.2,108.2 517.8,105.2 523.6,100.4 530.5,96.4 562.8,83.0 568.1,80.3 570.4,78.4 572.6,75.7 582.8,59.7 584.2,57.7 585.2,57.1 585.4,58.6 585.0,65.5 582.7,92.9 580.7,109.3 578.4,122.1 576.0,131.3 573.0,138.7 569.6,144.2 565.4,148.4 562.1,150.7 557.7,153.2 540.4,160.9 536.5,163.2 506.6,184.1 502.6,187.8 496.4,195.6 495.5,196.5 494.9,196.7 494.6,195.6 494.9,192.7 497.5,168.8 499.6,154.0 501.9,141.7 504.2,131.9 507.0,123.4 509.9,116.5 513.1,110.8 516.1,106.9 519.7,103.3 523.6,100.2 527.8,97.6 535.1,94.2 563.8,82.6 568.6,80.0 570.8,78.0 573.0,75.3 582.2,61.0 585.5,56.6 587.6,54.5 590.4,52.4 593.0,51.0 594.2,51.0 594.5,51.9 594.5,54.2 592.1,84.6 590.2,101.5 588.0,115.3 585.8,125.1 583.2,132.6 580.2,138.4 576.4,143.0 572.1,146.5 566.5,149.7 558.3,153.5 540.8,160.8 537.3,162.7 507.3,183.5 502.1,188.2 494.4,197.3 491.6,199.3 488.5,200.5 487.7,200.3 487.4,198.9 488.5,187.0 491.1,165.7 494.0,147.9 497.4,133.8 501.4,122.5 503.6,118.0 506.1,113.7 508.8,110.1 511.9,106.8 515.0,104.2 518.6,101.7 527.0,97.2 570.2,80.1 576.5,77.1 579.2,74.9 581.5,72.2 591.9,55.8 593.3,53.8 594.3,53.2 594.6,54.2 594.3,59.1 592.0,87.5 590.0,103.9 587.9,116.7 585.6,125.9 582.9,133.4 579.8,139.1 575.8,143.6 571.5,146.9 565.8,150.1 541.0,160.7 537.9,162.4 498.7,189.1 494.3,192.5 489.0,197.7 487.8,198.5 487.4,198.0 487.4,195.9 490.1,172.1 492.4,156.2 494.9,143.0 498.3,130.4 502.3,120.2 504.7,115.8 507.2,112.1 510.1,108.6 512.9,105.8 519.4,101.1 527.8,96.8 571.6,79.6 577.9,76.6 580.6,74.5 582.9,71.8 592.1,57.5 594.2,55.2 594.6,56.5 594.2,61.9 591.7,91.3 589.6,107.7 587.2,120.4 584.6,129.6 581.5,136.4 577.8,141.7 572.9,146.0 569.1,148.4 563.8,151.1 538.6,162.0 500.0,188.0 488.9,196.4 487.7,196.8 487.4,196.2 487.5,193.9 490.1,170.6 492.4,155.3 494.9,142.5 497.4,132.8 500.2,124.8 503.3,118.0 507.0,112.1 510.3,108.3 514.3,104.6 518.8,101.4 524.5,98.3 532.7,94.7 572.4,79.3 578.2,76.5 580.9,74.3 583.1,71.6 591.6,58.6 594.9,54.2 598.9,50.5 600.5,49.6 601.4,49.4 601.8,50.2 601.8,52.5 599.4,83.4 597.3,100.7 595.1,114.0 592.7,123.7 589.9,131.2 586.6,136.8 582.5,141.2 578.1,144.4 571.4,147.9 538.4,162.1 498.5,188.8 487.5,197.4 484.8,198.7 481.6,199.6 480.6,199.5 480.1,198.6 480.6,192.3 483.5,168.5 486.7,149.8 490.4,135.3 492.5,129.1 494.7,124.1 497.0,119.6 499.8,115.5 502.7,112.0 506.3,108.5 509.8,105.8 514.0,103.1 524.3,97.9 577.4,77.4 584.3,74.3 587.0,72.2 589.3,69.6 599.4,54.1 601.5,51.7 601.8,52.6 601.7,55.9 599.2,86.3 597.2,102.7 594.9,115.5 592.5,124.7 589.8,131.6 586.4,137.2 582.2,141.5 577.8,144.6 571.1,148.1 538.9,161.8 492.2,192.6 485.6,196.3 481.2,197.9 480.3,197.6 480.1,196.1 481.9,179.3 484.6,160.4 487.7,144.8 491.4,131.8 493.4,126.7 495.8,121.7 498.3,117.4 501.0,113.8 504.1,110.5 507.4,107.5 515.3,102.3 525.2,97.5 578.4,77.0 585.3,74.0 588.1,72.0 590.5,69.5 599.3,56.1 601.5,53.8 601.8,55.0 601.5,60.4 598.9,89.8 596.8,106.2 594.2,118.9 591.6,127.5 588.4,134.3 584.5,139.4 581.9,141.8 579.1,143.8 574.8,146.3 568.9,149.1 539.0,161.8 492.9,191.9 486.2,195.2 482.9,196.2 480.8,196.3 480.2,195.6 480.1,193.9 482.3,174.6 484.9,157.8 487.7,144.1 490.4,134.4 493.4,126.5 496.7,119.8 500.7,114.0 504.5,110.0 509.1,106.2 514.5,102.7 521.2,99.2 530.4,95.3 579.5,76.7 585.8,73.8 588.6,71.7 590.9,69.1 599.3,56.6 602.3,52.7 605.6,49.7 608.8,47.9 609.3,48.0 609.6,48.4 609.7,50.1 607.6,76.6 605.5,95.9 602.9,111.2 600.6,120.4 597.8,127.9 594.6,133.5 590.1,138.2 585.2,141.7 578.1,145.3 539.0,161.8 489.6,194.1 482.9,197.5 477.2,199.1 475.3,199.3 474.2,199.1 473.7,198.2 473.7,196.9 476.5,173.6 479.7,154.8 483.5,139.3 485.8,132.7 488.2,127.2 490.8,122.3 493.9,117.8 497.2,114.1 501.3,110.4 505.3,107.4 510.4,104.3 523.0,98.2 584.7,74.7 592.5,71.4 595.4,69.4 598.1,66.5 607.1,52.7 609.3,50.3 609.7,51.0 609.6,53.3 607.2,82.7 605.2,99.1 602.9,111.9 600.6,121.1 597.9,128.1 594.6,133.6 590.5,138.0 585.6,141.5 578.5,145.1 538.9,161.8 492.8,191.9 486.7,195.2 480.9,197.0 475.1,197.7 474.1,197.3 473.7,196.4 475.7,178.6 478.5,160.4 480.3,151.0 482.4,142.8 484.6,135.6 487.1,129.1 489.8,123.8 493.1,118.7 496.7,114.5 500.7,110.8 505.1,107.5 510.2,104.4 522.8,98.3 586.3,74.1 594.1,70.8 597.0,68.8 599.4,66.3 607.5,54.2 609.3,52.4 609.7,52.9 609.6,55.1 607.4,82.0 605.6,97.4 603.5,109.7 601.5,118.5 599.1,125.6 596.2,131.4 592.9,135.8 588.0,140.0 580.6,144.1 538.7,161.9 499.8,187.4 490.8,192.7 484.7,195.0 476.3,196.1 475.0,196.1 474.0,195.6 473.7,193.7 475.6,177.8 477.8,163.5 480.1,151.2 482.7,141.0 485.6,132.5 488.7,125.7 492.3,119.7 496.8,114.3 501.2,110.3 506.5,106.6 512.6,103.1 520.3,99.4 530.0,95.4 587.1,73.9 594.0,71.0 596.5,69.4 598.7,67.3 601.1,64.2 607.3,55.1 609.0,53.3 610.6,52.2 613.0,51.5 617.4,50.9 619.0,51.1 619.5,51.9 619.4,56.2 617.8,75.1 615.2,97.0 613.6,105.8 611.9,113.1 610.2,118.9 608.1,124.0 605.7,128.3 602.9,131.8 600.3,134.2 597.5,136.2 589.6,140.5 538.9,161.8 495.0,190.6 485.5,196.1 482.2,197.4 478.9,198.3 469.0,199.4 467.6,199.4 466.7,198.9 466.5,196.9 469.3,174.6 472.6,156.4 476.4,141.9 478.6,135.8 480.9,130.8 483.3,126.4 486.1,122.3 489.3,118.4 492.9,115.0 496.8,111.9 501.4,108.8 513.3,102.4 528.0,96.1 606.1,66.6 609.1,65.0 611.5,63.1 613.8,60.5 618.2,54.5 619.4,53.7 619.6,54.8 619.4,58.2 617.2,82.1 615.5,96.0 613.4,107.4 611.4,115.6 609.0,122.2 606.3,127.5 602.9,131.8 600.3,134.2 597.5,136.3 589.6,140.5 538.9,161.8 497.1,189.2 488.0,194.4 484.7,195.7 480.9,196.7 468.9,197.8 467.6,197.7 466.7,197.2 466.5,195.2 469.4,172.9 472.8,154.8 476.6,140.8 478.9,134.7 481.3,129.7 483.8,125.4 486.7,121.3 490.0,117.6 493.7,114.3 497.7,111.2 502.7,108.0 515.1,101.5 528.5,95.9 607.1,66.3 610.2,64.7 612.6,62.9 618.1,56.6 619.4,55.7 619.6,56.8 619.4,59.7 617.2,83.6 615.4,97.4 613.4,108.3 611.4,116.0 609.0,122.6 606.2,127.9 602.7,132.1 597.3,136.5 589.3,140.7 539.1,161.7 500.1,187.2 491.1,192.5 486.9,194.1 482.5,195.1 473.6,195.9 467.3,196.0 466.5,195.0 466.7,191.8 469.0,173.9 471.7,159.2 473.7,150.4 475.8,142.7 478.2,136.1 480.9,130.2 483.6,125.4 486.5,121.4 489.9,117.7 493.6,114.3 498.0,111.0 503.0,107.8 515.9,101.2 528.4,96.0 541.5,91.2 606.5,66.4 609.5,64.8 611.9,62.9 618.0,55.1 619.3,54.1 619.6,54.7 619.6,56.4 618.0,75.4 616.4,89.3 614.7,100.7 613.1,109.0 611.4,115.8 609.4,121.4 607.0,126.4 604.8,129.7 602.1,132.7 599.0,135.2 595.3,137.6 583.1,143.4 539.2,161.7 495.7,190.1 486.7,195.4 481.1,197.5 473.7,198.7 460.8,199.4 459.4,198.9 459.1,197.9 461.9,176.7 465.4,158.5 469.3,144.5 471.7,138.5 474.1,133.5 476.9,128.8 479.9,124.8 483.3,121.1 487.0,117.8 491.3,114.5 496.8,110.9 510.0,103.8 522.8,98.1 535.9,93.3 543.6,91.0 561.5,86.5 575.2,83.5 588.5,81.3 610.3,78.3 624.5,76.9 625.1,77.2 625.4,77.8 625.4,79.6 623.9,91.5 622.2,101.3 619.3,113.5 617.6,118.2 615.7,122.2 612.9,126.4 609.9,129.7 605.9,132.8 601.2,135.5 588.0,141.5 541.3,160.7 537.3,162.8 514.0,178.3 507.5,183.0 502.7,188.0 494.5,199.3 491.1,202.2 486.9,204.0 464.3,212.0 458.0,213.6 456.7,213.7 455.8,213.4 455.5,212.4 455.6,210.0 458.6,184.7 461.1,169.4 463.9,156.7 466.7,147.1 470.0,138.7 473.7,131.7 478.2,125.6 483.8,120.0 490.5,114.8 499.1,109.6 509.7,104.0 519.7,99.5 530.0,95.4 551.2,88.0 566.5,83.1" fill="none" stroke="#000" stroke-width="1.85" stroke-linejoin="round"/>
<path d="M186.6,472.1 193.8,416.1 192.4,446.6 190.8,471.0 188.9,489.9 186.5,504.3 183.5,515.9 179.4,525.9 181.9,486.8 183.3,470.9 184.9,457.5 187.7,440.7 190.8,428.1 194.4,417.7 199.9,406.4 197.7,440.6 195.0,467.5 192.0,487.7 190.2,496.0 188.1,503.8 181.8,522.2 178.2,530.5 174.3,538.4 176.4,503.2 179.1,473.8 180.6,461.4 182.4,450.6 184.4,441.3 186.7,433.1 189.4,425.6 192.8,418.3 196.6,411.9 199.4,408.2 199.9,408.1 197.8,440.9 195.3,468.8 192.3,489.6 190.6,498.4 188.6,506.2 185.5,515.7 182.1,524.0 177.9,531.9 175.2,536.0 174.4,536.7 176.4,503.1 179.1,473.7 180.8,461.4 182.5,451.0 184.5,442.2 186.8,434.1 189.6,426.6 193.1,419.3 197.0,412.9 199.5,409.7 199.8,409.5 199.9,409.8 197.3,447.7 195.8,463.6 194.1,477.5 192.2,489.4 190.1,499.2 187.9,507.4 184.9,515.9 182.2,522.3 179.0,528.5 175.0,534.6 174.5,535.1 174.3,534.7 175.7,511.5 177.4,489.6 179.2,472.2 181.3,457.3 183.1,448.0 185.1,439.7 187.7,431.7 190.3,425.2 194.1,418.1 198.5,411.5 203.8,405.5 204.9,404.6 205.3,404.7 205.4,405.2 203.0,440.9 199.8,469.7 198.1,480.6 196.0,490.4 193.7,499.0 191.1,506.6 186.2,517.0 179.8,527.7 175.5,533.9 171.8,538.6 169.1,541.3 168.3,541.6 168.1,541.3 169.4,517.8 171.7,491.4 174.1,472.6 176.9,457.3 178.9,449.6 181.3,442.5 183.9,436.5 187.1,430.3 192.7,421.4 200.4,410.9 204.3,406.6 205.0,406.3 205.4,407.3 203.7,431.6 201.6,453.5 199.3,470.8 196.5,485.0 193.5,496.1 189.7,505.9 184.5,516.2 177.8,527.3 169.7,538.7 168.4,539.8 168.1,539.6 168.0,538.6 169.7,512.8 171.7,490.9 174.1,473.0 176.8,458.8 178.9,451.0 181.1,444.4 183.9,438.0 187.2,431.8 192.8,422.9 200.5,412.5 204.4,408.2 205.1,408.0 205.4,409.1 203.8,431.4 201.8,451.8 199.6,468.2 197.0,481.9 194.0,493.0 190.6,502.4 185.8,512.3 179.9,522.2 170.4,536.2 168.4,538.1 168.1,537.9 168.0,536.9 169.9,508.1 172.3,484.2 175.1,465.9 178.5,451.8 180.9,444.7 183.7,438.3 187.3,431.7 191.3,425.4 198.2,416.2 206.8,405.8 213.9,398.1 215.6,396.7 216.3,396.7 216.5,399.4 215.0,421.8 212.1,451.2 209.1,469.9 207.3,477.2 205.3,483.4 202.9,488.9 200.2,493.6 178.6,524.3 163.5,544.2 159.5,548.7 158.5,549.5 157.8,549.6 157.6,548.8 157.6,546.4 159.7,515.5 161.4,497.6 163.3,482.7 165.1,471.8 167.3,462.6 169.7,455.5 172.6,449.7 176.3,444.4 188.9,430.8 211.8,402.4 214.5,399.5 216.0,398.4 216.5,398.9 216.5,400.6 215.0,423.0 213.3,441.4 211.5,456.8 209.7,467.7 207.5,476.9 205.2,484.0 202.3,489.9 198.8,494.7 191.9,502.0 187.8,507.0 162.4,542.9 159.3,546.8 157.9,547.7 157.6,547.0 157.6,544.7 159.5,516.3 161.2,498.4 163.0,483.5 164.9,472.7 167.0,463.4 169.4,456.3 172.1,450.4 176.4,444.3 190.0,431.0 211.8,404.3 214.5,401.4 216.0,400.3 216.5,400.8 216.5,402.0 215.3,420.4 213.7,438.8 212.0,453.7 210.1,466.1 207.9,475.8 205.5,483.4 202.5,489.7 198.6,495.0 190.6,502.5 186.6,507.0 162.2,541.2 159.5,544.6 158.0,545.8 157.6,545.3 157.6,543.6 159.2,519.7 160.8,500.7 162.6,485.4 164.3,474.5 166.2,465.7 168.4,458.0 170.9,452.0 173.7,447.3 176.8,443.3 189.9,431.0 216.8,399.4 223.4,392.6 225.2,391.2 226.0,391.0 226.3,391.8 226.3,393.6 224.6,418.1 223.1,435.5 221.4,450.4 219.8,460.8 218.0,469.6 216.0,476.8 213.7,482.9 210.4,488.5 206.5,493.0 202.1,496.4 191.9,502.6 187.1,506.9 182.4,512.8 166.9,534.3 159.3,544.2 152.0,552.5 149.5,554.7 148.3,555.2 148.0,554.5 148.0,552.2 150.1,519.8 152.0,500.4 154.1,484.5 156.2,473.2 158.5,464.6 161.4,457.1 164.7,451.5 168.3,447.4 172.5,443.8 177.4,440.4 189.4,433.1 195.2,428.4 202.3,420.6 221.5,397.0 224.2,394.1 225.8,393.1 226.2,393.5 226.3,395.2 224.4,422.1 222.6,441.1 220.6,456.4 218.5,467.7 216.2,476.4 213.5,483.4 210.2,489.0 207.2,492.3 203.4,495.5 198.3,498.7 187.2,504.4 181.9,508.9 174.3,518.2 152.1,549.1 149.6,552.1 148.3,553.0 147.9,552.4 148.0,550.1 150.1,518.2 151.9,499.8 154.0,484.4 156.1,473.1 158.5,464.4 161.2,457.4 164.5,451.8 168.4,447.3 172.9,443.4 178.8,439.6 191.7,432.0 197.2,427.7 204.0,420.4 221.8,398.7 224.5,395.9 225.7,395.1 226.2,395.5 226.3,397.1 225.0,416.5 223.3,435.5 221.5,451.4 219.3,464.7 216.8,474.9 213.9,482.8 210.3,488.9 207.0,492.6 203.1,495.7 197.6,499.0 186.4,504.6 183.1,506.9 179.8,510.0 176.5,513.7 172.5,518.8 152.0,547.2 149.8,549.9 148.4,551.0 148.0,550.5 147.9,548.8 149.7,522.9 151.3,504.0 153.2,488.6 155.0,477.8 157.1,468.5 159.4,461.4 162.1,455.4 166.0,449.7 171.4,444.5 177.9,439.9 191.8,431.9 197.6,427.2 203.4,421.0 225.7,394.7 230.5,389.6 232.3,388.6 232.6,389.3 232.6,391.0 230.9,417.5 229.2,435.4 227.5,449.8 225.8,460.2 223.9,468.9 221.7,476.1 219.1,482.1 217.0,485.5 214.8,488.2 209.6,492.9 202.4,497.2 186.6,504.7 183.3,507.0 179.9,510.0 173.4,517.6 150.2,548.9 144.6,555.3 142.4,557.2 141.2,557.7 140.8,557.1 140.8,554.8 143.1,520.9 145.0,501.5 147.3,485.7 149.6,474.4 152.2,465.8 155.3,459.0 159.2,453.2 163.9,448.7 169.9,444.3 179.4,438.7 194.4,430.8 200.6,426.5 204.2,423.0 208.2,418.6 228.5,393.9 230.9,391.4 232.1,390.6 232.6,391.1 232.6,393.2 230.6,421.6 228.8,440.6 226.7,455.9 224.4,467.2 221.9,475.8 218.8,482.7 215.1,488.0 211.5,491.4 206.6,494.9 199.6,498.6 185.5,505.1 178.7,509.3 174.4,512.7 171.2,515.9 167.4,520.6 145.4,550.9 142.6,554.4 141.2,555.5 140.8,555.0 140.8,552.8 143.0,520.4 144.9,501.5 147.1,486.2 149.2,475.4 151.8,466.7 154.7,459.9 158.5,454.0 163.4,449.0 169.9,444.3 181.1,437.8 196.7,429.7 202.8,425.5 206.2,422.5 210.2,418.1 228.7,395.7 231.1,393.3 232.2,392.7 232.6,393.3 232.6,395.0 230.9,420.0 229.2,437.9 227.3,452.3 225.0,465.1 222.4,474.7 219.2,482.0 215.3,487.8 211.8,491.3 206.9,494.8 199.8,498.5 185.3,505.2 177.2,510.1 172.0,514.1 168.8,517.2 165.3,521.5 145.0,549.3 142.5,552.4 141.1,553.4 140.7,552.8 140.8,550.5 142.8,521.1 144.6,503.2 146.6,488.3 148.5,478.0 150.8,469.3 153.4,462.3 156.5,456.6 158.6,453.8 161.3,450.8 164.3,448.2 168.3,445.2 180.3,438.1 197.2,429.4 203.4,425.1 209.7,418.7 225.2,400.4 231.9,393.0 239.3,386.3 242.9,383.7 244.8,382.9 245.4,383.3 245.5,385.0 243.9,408.9 242.0,429.8 239.9,446.7 237.9,457.5 235.7,466.2 233.2,473.2 230.1,478.9 227.6,482.1 225.2,484.6 222.1,487.1 217.9,489.9 206.4,495.9 186.3,504.8 178.1,509.6 173.2,513.1 169.5,516.4 165.3,521.4 146.9,546.3 141.5,552.9 138.6,555.6 135.0,558.2 129.7,561.1 126.9,561.9 126.3,561.3 126.3,559.1 128.7,525.2 130.9,505.3 133.5,489.5 135.9,479.3 139.0,470.8 142.7,464.3 147.6,458.7 151.0,455.7 155.4,452.5 167.8,444.9 185.8,435.1 206.0,425.3 212.4,421.4 215.8,418.5 219.7,414.5 240.8,389.2 243.5,386.3 245.0,385.3 245.5,385.8 245.5,387.9 243.0,421.3 240.9,440.2 238.6,455.0 236.1,465.2 233.3,473.2 229.9,479.3 225.7,484.3 221.4,487.7 215.8,491.1 204.7,496.7 185.9,505.0 164.7,517.1 157.1,522.1 153.4,525.4 149.4,529.8 130.4,555.6 128.2,558.2 126.7,559.4 126.2,558.6 126.3,556.3 128.9,522.4 130.9,504.0 133.4,489.2 135.9,479.0 138.8,471.1 142.4,464.5 147.0,459.2 150.7,455.9 155.2,452.7 168.4,444.6 185.9,435.0 208.5,424.2 214.9,420.3 218.4,417.5 221.9,413.9 241.1,390.9 243.9,388.1 245.1,387.5 245.5,388.0 245.5,390.2 243.4,418.1 241.6,436.0 239.5,450.4 237.0,462.6 234.0,471.6 230.4,478.7 228.3,481.5 225.9,484.1 221.6,487.5 215.7,491.2 204.5,496.8 185.8,505.1 162.8,518.2 155.2,523.1 151.0,526.6 147.3,530.6 129.9,553.9 127.7,556.5 126.6,557.2 126.3,556.6 126.3,554.4 128.5,524.5 130.4,507.1 132.6,492.8 134.8,482.5 137.3,474.4 140.2,468.0 143.8,462.6 147.2,458.9 151.3,455.4 156.7,451.6 163.9,447.2 184.4,435.8 207.0,425.0 214.4,420.8 218.3,417.7 222.1,413.8 239.5,393.2 244.4,388.1 247.1,385.9 250.2,384.2 255.2,382.2 258.9,381.2 259.5,381.3 259.9,381.8 260.0,383.4 258.1,409.8 255.7,432.2 252.9,449.0 250.3,459.1 247.2,467.0 243.3,473.4 238.4,478.4 233.1,482.2 225.4,486.7 208.3,495.1 185.9,505.0 156.9,521.8 152.1,525.4 147.6,530.1 131.1,552.0 127.2,556.6 125.3,558.1 122.6,559.5 113.6,562.1 112.2,561.9 111.7,560.5 112.7,545.7 115.4,518.3 118.5,498.5 121.5,486.9 125.1,478.1 127.4,474.3 129.8,471.1 132.8,467.8 136.2,464.8 142.7,460.1 151.5,454.4 177.5,439.5 187.7,434.1 223.9,417.2 231.8,412.9 235.4,410.2 239.4,406.4 255.9,387.0 258.3,384.5 259.5,383.8 260.0,384.3 260.0,386.4 257.4,418.3 255.3,436.2 252.8,450.0 250.3,459.7 247.3,467.1 243.7,473.0 238.8,478.1 231.9,483.0 221.4,488.8 206.1,496.1 185.5,505.2 136.5,533.2 131.6,536.8 127.6,540.6 123.5,545.5 115.0,556.7 112.2,559.4 111.8,559.0 111.8,556.9 113.8,531.5 115.8,514.6 117.9,501.3 120.9,488.6 122.6,483.4 124.6,478.8 126.9,474.9 129.5,471.3 132.6,468.0 135.9,465.0 142.4,460.3 151.6,454.3 164.5,446.7 178.1,439.1 187.8,434.0 226.4,416.1 234.3,411.8 238.3,408.9 241.9,405.4 255.9,389.1 259.3,386.1 259.7,386.1 260.0,386.5 260.0,388.2 257.9,415.1 255.8,433.5 253.4,447.8 251.0,457.5 248.4,465.1 245.0,471.2 240.9,476.2 235.1,480.9 227.0,485.8 209.5,494.5 185.8,505.1 134.5,534.3 129.6,537.7 125.9,541.1 121.9,545.6 114.6,555.0 112.4,557.1 111.9,556.9 111.8,555.0 114.3,525.6 117.4,503.3 119.2,494.5 121.2,487.3 123.4,481.2 125.9,476.3 129.1,471.8 132.8,467.7 138.6,463.0 146.8,457.3 159.6,449.5 174.4,441.1 186.8,434.6 224.9,416.9 234.2,412.0 238.2,409.0 241.8,405.6 256.7,388.7 259.3,386.5 262.0,385.1 264.9,384.3 267.1,384.1 267.8,384.6 268.0,385.7 266.0,411.1 263.6,431.9 261.0,446.2 257.8,457.2 256.1,461.4 254.0,465.4 251.8,468.7 249.2,471.7 246.2,474.4 242.6,477.1 232.7,482.9 211.7,493.5 185.7,505.1 134.9,534.0 130.3,537.1 126.9,540.0 122.8,544.4 114.0,555.3 111.4,557.6 108.8,559.1 106.9,559.5 106.4,559.1 106.2,558.1 108.3,532.7 109.7,519.8 111.4,508.4 113.3,499.1 115.4,491.4 117.8,484.8 120.6,479.5 123.8,475.1 127.9,470.7 134.9,465.1 145.8,457.9 161.6,448.4 178.2,439.1 187.5,434.2 237.0,411.4 246.8,406.4 250.5,403.8 253.9,400.9 264.6,389.1 267.3,386.8 267.8,386.8 268.0,387.3 268.0,389.0 266.0,413.4 263.9,430.2 261.6,444.0 259.3,453.3 256.7,460.3 253.7,466.0 249.7,471.2 246.8,473.9 243.3,476.6 233.4,482.6 212.0,493.4 185.5,505.2 126.8,538.5 121.8,541.7 117.9,544.9 107.0,556.8 106.4,556.8 106.2,555.5 107.4,540.1 108.9,525.2 110.6,512.8 112.4,502.5 114.6,493.7 117.0,486.6 119.8,480.8 123.1,475.8 127.1,471.4 134.1,465.7 144.9,458.5 161.2,448.6 178.2,439.1 187.5,434.2 239.2,410.3 249.0,405.4 252.8,402.9 255.9,400.4 265.2,390.6 267.2,389.0 267.9,389.1 268.0,390.5 266.3,411.8 264.2,429.2 261.9,443.0 259.7,452.3 257.3,459.4 254.4,465.2 250.9,470.0 247.7,473.2 244.2,476.0 234.0,482.3 212.5,493.1 185.6,505.2 127.3,538.1 120.9,542.0 116.8,544.9 113.5,548.0 107.4,554.4 106.4,554.8 106.2,553.5 108.5,527.2 111.4,506.9 113.0,499.1 114.8,492.3 116.8,486.7 119.1,481.7 121.5,477.9 124.3,474.3 127.4,471.1 131.6,467.6 144.4,458.8 164.1,446.9 186.9,434.5 247.2,406.5 251.5,403.9 255.1,401.2 266.1,390.3 269.6,388.6 273.3,388.0 274.1,388.5 274.4,390.0 273.1,405.9 270.9,425.3 268.4,440.1 266.1,449.3 263.5,456.4 260.5,462.1 256.9,466.9 253.7,470.0 249.7,473.1 237.8,480.3 213.7,492.6 185.9,505.0 125.7,538.9 120.6,542.0 117.0,544.7 108.5,553.1 105.7,555.1 102.9,556.3 100.8,556.6 100.0,556.1 99.8,554.5 102.4,528.2 105.5,507.9 107.3,500.1 109.2,493.9 111.5,488.3 114.1,483.5 117.0,479.5 120.5,475.8 124.6,472.2 129.8,468.3 148.7,456.1 171.5,442.7 187.4,434.2 258.3,401.6 264.7,397.8 272.4,391.4 274.0,390.6 274.4,391.2 274.4,392.9 272.2,415.8 270.3,430.2 268.1,442.0 265.9,450.2 263.3,457.2 260.4,462.5 256.7,467.2 253.4,470.3 249.0,473.6 236.6,481.0 212.9,492.9 185.6,505.2 114.1,545.3 108.1,548.9 101.3,553.8 100.1,554.0 99.8,552.4 102.5,526.0 104.0,515.2 105.7,506.3 107.6,498.5 109.6,492.4 112.1,486.9 114.9,482.2 118.0,478.3 121.6,474.8 126.2,471.0 132.7,466.3 154.7,452.4 179.5,438.4 188.4,433.8 259.3,401.3 265.9,397.8 272.8,393.0 274.0,392.7 274.4,393.4 274.3,395.7 271.9,419.6 269.9,433.4 267.6,444.7 265.3,452.3 262.6,458.8 259.2,464.3 255.2,468.7 251.8,471.6 247.7,474.5 236.0,481.3 212.8,493.0 185.4,505.3 99.6,552.9" fill="none" stroke="#000" stroke-width="1.85" stroke-linejoin="round"/>
<path d="M539.1,472.1 545.4,414.4 544.3,442.2 542.9,466.2 541.4,484.6 539.5,499.5 536.6,513.7 532.8,525.9 534.8,489.7 537.2,461.3 539.6,443.0 542.2,429.2 545.3,417.1 549.9,403.3 548.5,427.8 546.7,450.7 544.7,469.6 542.5,485.4 540.1,498.2 536.5,512.3 533.0,523.2 528.2,534.8 531.2,491.1 533.0,473.7 534.9,458.8 537.2,445.5 539.9,433.8 542.9,423.2 546.6,412.9 549.9,405.4 549.9,406.4 546.9,449.2 545.1,466.1 543.2,480.4 540.6,495.2 537.1,509.3 532.7,522.6 528.3,533.0 531.2,490.9 533.0,473.5 535.0,458.6 537.2,445.8 539.9,434.1 543.0,423.5 546.4,414.2 549.6,407.4 553.1,401.9 555.8,399.0 558.7,396.3 560.0,395.6 560.4,395.7 560.5,396.2 559.0,421.4 556.9,444.8 554.6,462.2 551.9,475.9 548.8,486.5 542.9,502.4 536.8,516.6 530.8,528.8 527.9,533.4 524.4,537.0 518.2,541.0 516.9,541.3 516.5,540.5 518.0,517.8 520.3,495.4 522.8,479.1 525.7,467.0 529.1,458.1 535.8,446.4 550.8,415.3 557.1,402.8 559.6,398.6 560.2,398.0 560.4,398.1 560.5,400.5 558.9,424.4 557.1,444.4 554.2,465.2 552.6,473.5 550.8,480.3 548.8,485.9 546.5,490.4 543.6,494.4 538.3,499.7 535.7,503.3 532.3,509.5 519.0,535.8 517.0,538.8 516.7,538.9 516.5,538.3 518.2,514.6 520.4,493.2 522.8,477.4 525.7,465.2 527.4,460.5 529.2,456.4 537.0,443.6 554.1,409.1 557.3,402.9 559.2,400.0 561.8,397.8 566.1,396.4 571.2,395.6 572.0,396.0 572.3,397.1 570.4,425.0 567.9,448.8 565.2,466.1 563.6,473.0 561.8,479.2 560.1,483.9 558.1,487.9 555.9,491.3 553.3,494.3 550.7,496.6 547.9,498.7 538.5,503.3 536.2,505.2 534.2,507.4 530.3,513.8 519.4,534.6 516.3,539.2 513.7,541.4 509.7,543.4 504.2,545.4 503.2,545.3 502.9,544.8 503.0,539.7 504.8,518.2 507.7,492.9 509.3,483.6 511.1,475.8 513.1,469.0 515.3,463.5 517.1,459.9 519.3,456.6 521.9,453.6 524.5,451.2 530.4,447.4 540.4,443.0 548.0,437.4 552.0,433.6 554.1,430.8 556.7,426.5 569.0,403.0 571.7,398.7 572.2,398.5 572.3,399.8 571.1,418.2 569.4,437.1 567.5,453.0 565.8,463.4 564.0,472.2 561.9,479.4 559.5,485.4 557.6,488.9 555.3,492.2 552.9,494.8 550.3,497.1 545.6,500.0 537.0,503.9 523.7,511.9 519.5,515.3 517.2,518.0 514.8,521.8 504.5,541.2 503.3,542.8 503.0,542.8 502.8,542.3 505.0,513.7 507.9,490.4 509.5,481.6 511.3,473.8 513.2,467.6 515.5,462.0 519.5,455.6 521.7,453.0 524.7,450.3 530.6,446.6 540.2,442.4 548.3,436.6 552.4,432.9 556.7,426.8 568.1,405.1 571.2,400.6 574.1,398.9 581.0,397.5 590.3,396.2 591.3,396.5 591.7,397.4 589.7,422.1 586.8,443.9 585.1,452.8 583.3,460.0 581.4,466.2 579.2,471.8 575.9,478.0 572.0,483.2 567.2,488.3 561.8,492.7 556.8,496.1 551.1,499.2 537.3,504.9 523.9,512.7 519.1,516.2 517.1,518.4 515.1,521.3 505.5,538.9 503.9,541.3 502.5,542.7 499.9,544.1 496.0,545.1 486.8,547.1 485.5,547.1 484.8,546.6 484.6,544.5 485.7,532.6 488.3,510.7 490.8,496.4 493.9,484.8 497.3,476.0 501.5,468.6 506.9,462.1 513.9,455.7 519.7,451.7 525.7,448.2 531.1,445.6 540.0,442.2 560.1,429.2 568.4,424.5 572.5,422.8 577.3,421.4 587.1,419.4 590.8,419.0 591.4,419.3 591.7,419.9 591.6,422.1 589.8,436.5 587.6,448.8 584.1,462.4 582.1,468.0 579.7,473.0 575.4,479.7 569.8,486.1 563.0,491.9 555.0,497.1 547.9,500.7 538.1,504.5 514.4,517.3 504.5,522.2 495.6,525.4 484.4,527.9" fill="none" stroke="#000" stroke-width="1.6" stroke-linejoin="round"/>
<path d="M186.6,811.0 192.0,767.3 191.7,783.7 190.9,800.1 189.8,813.6 188.1,825.0 185.4,837.2 181.5,848.4 181.2,854.8 183.1,825.7 185.2,804.3 187.6,787.5 189.9,775.7 192.7,765.0 197.2,751.7 196.9,765.7 196.0,782.2 194.6,796.1 192.9,808.0 191.2,816.3 189.3,823.6 181.8,848.5 176.2,865.0 175.8,867.5 175.7,872.3 177.3,845.1 179.0,823.2 181.0,805.3 183.3,791.0 185.9,779.7 189.2,769.3 193.4,759.6 197.1,753.5 196.7,774.9 195.0,797.8 192.4,817.2 190.8,825.5 188.9,833.3 186.2,841.9 183.2,849.8 180.1,856.7 176.3,863.6 175.7,867.5 178.2,831.9 180.6,808.0 183.6,789.2 185.4,781.5 187.5,774.3 191.9,763.1 194.5,758.3 196.9,754.5 200.1,750.6 203.4,747.6 206.6,745.5 207.5,745.4 207.8,745.8 207.8,755.9 207.1,774.9 206.0,789.4 204.6,801.8 202.8,812.1 200.8,820.9 198.3,829.0 195.2,836.4 189.7,846.5 180.1,861.7 172.7,871.8 162.3,884.3 164.4,850.7 167.1,824.8 168.6,815.5 170.3,808.2 172.2,801.9 174.4,796.9 176.7,793.1 185.5,780.9 204.2,751.3 206.5,748.2 207.3,747.5 207.7,747.6 208.0,749.3 207.8,757.8 206.9,779.3 205.5,794.7 203.7,808.1 201.6,818.4 198.9,827.5 195.6,835.3 191.4,842.7 174.3,867.3 167.9,875.6 162.3,882.1 163.7,857.2 165.6,835.3 167.8,818.9 170.3,806.7 172.6,799.5 175.5,793.8 185.5,780.6 204.9,751.0 208.7,746.3 212.4,742.9 218.1,738.9 220.2,737.9 221.2,737.8 221.6,738.6 221.8,740.4 221.2,761.3 220.2,778.3 218.8,792.8 217.3,803.6 215.4,813.4 213.1,821.6 210.5,828.7 206.3,836.6 200.9,843.8 196.2,848.3 186.6,856.2 182.5,860.0 159.3,886.1 152.3,893.3 150.7,894.8 150.1,894.9 150.0,893.2 150.6,881.8 152.4,854.8 154.0,837.4 155.8,823.5 157.8,813.2 160.0,805.5 162.7,799.6 166.2,794.8 169.2,792.1 172.9,789.7 187.8,782.7 192.0,779.8 195.0,777.2 197.9,773.8 201.5,769.0 218.5,743.1 220.6,740.6 221.5,740.3 221.8,742.1 221.6,750.6 220.7,772.1 219.5,788.0 217.8,801.4 215.8,812.3 213.4,821.4 210.4,829.4 206.9,836.0 202.8,841.7 197.7,847.1 192.7,851.3 182.2,858.9 176.6,863.9 170.8,870.1 155.0,888.2 151.5,891.7 150.2,892.4 150.0,890.4 151.1,870.4 153.5,841.0 155.9,822.2 158.7,809.0 160.3,804.2 161.9,800.6 163.9,797.2 166.1,794.4 168.7,792.1 171.6,790.1 176.5,787.6 187.0,782.9 191.2,780.2 194.7,777.4 197.4,774.5 200.8,770.1 216.1,747.3 221.8,739.7 225.6,735.7 230.5,731.4 235.7,727.6 237.9,726.8 238.4,727.5 238.5,729.2 237.8,755.2 236.6,773.7 235.0,789.6 233.1,801.4 230.7,811.6 227.9,820.2 224.5,827.4 221.6,832.1 218.3,836.5 214.5,840.4 210.3,844.0 200.8,850.5 182.9,860.4 176.1,865.5 170.4,871.1 154.7,887.9 144.9,898.0 137.3,905.2 135.0,907.0 133.7,907.6 133.2,907.1 133.1,905.5 134.5,878.5 136.1,856.6 137.9,839.2 139.5,827.8 141.4,818.5 143.6,811.3 146.3,805.4 148.2,802.5 150.2,800.3 152.9,798.0 155.8,796.1 163.9,792.2 187.1,782.8 202.6,773.8 208.8,769.5 212.4,766.0 215.8,761.7 234.0,734.2 237.6,729.7 238.0,729.5 238.3,729.8 238.5,731.3 237.9,754.8 236.7,774.7 234.8,791.6 232.8,803.4 230.3,813.6 227.3,822.1 223.7,829.2 220.6,833.8 217.1,838.0 212.8,842.1 208.0,845.9 197.0,852.7 175.7,863.8 167.9,869.2 159.3,877.5 136.8,902.3 133.9,904.6 133.3,904.5 133.1,903.5 135.4,864.7 136.7,848.7 138.2,835.8 139.8,825.4 141.6,817.1 143.7,810.5 146.3,805.1 148.3,802.2 150.3,800.0 153.0,797.8 156.0,795.9 164.1,792.1 186.8,782.8 202.5,773.9 208.7,769.7 211.9,766.7 215.4,762.4 233.8,735.0 236.2,731.9 238.0,730.2 240.2,729.0 242.6,728.3 255.9,726.4 257.9,726.6 258.3,727.1 258.6,728.3 258.2,745.3 257.3,763.2 255.9,778.2 254.2,790.6 252.0,800.8 249.3,809.9 246.0,817.7 242.1,824.2 238.4,828.9 233.8,833.4 228.7,837.4 222.4,841.6 207.4,849.6 178.3,862.9 173.5,865.5 169.8,868.0 165.5,871.4 161.1,875.6 140.4,898.0 133.6,904.6 129.2,907.9 124.1,911.0 117.4,914.3 114.0,915.3 113.3,914.8 113.2,912.7 115.0,879.7 116.9,855.8 119.2,838.0 121.4,826.7 124.0,818.1 127.1,811.9 131.0,807.3 135.9,803.9 142.6,800.6 187.2,782.6 235.0,755.5 239.9,752.1 243.9,748.3 247.6,743.6 255.9,731.7 257.4,729.9 258.1,729.5 258.6,730.9 258.5,737.8 257.5,761.3 256.0,778.3 254.1,792.1 250.9,805.7 249.0,811.4 246.6,816.9 244.0,821.7 241.1,825.9 237.5,830.0 233.5,833.8 225.5,839.7 215.1,845.7 202.5,851.9 170.7,866.4 159.2,872.4 150.1,877.7 144.0,882.1 138.4,887.0 131.7,893.7 117.7,908.8 115.2,911.1 113.9,911.9 113.3,911.6 113.2,909.6 115.5,871.2 117.5,849.3 119.9,832.9 122.4,822.2 125.3,814.8 127.1,811.8 128.9,809.4 131.0,807.3 133.8,805.2 138.1,802.7 144.9,799.6 186.7,782.9 229.8,758.6 238.0,753.7 242.9,749.5 247.1,744.5 255.7,732.3 258.9,729.1 261.0,727.9 263.9,727.0 272.2,725.2 274.4,725.0 275.3,725.8 275.5,727.6 274.7,750.6 273.3,769.5 271.1,785.3 268.6,796.6 265.6,805.6 262.0,813.2 257.5,819.8 253.0,824.6 247.7,829.1 241.5,833.3 233.7,837.8 214.8,847.0 172.7,865.5 161.1,871.3 151.5,876.8 144.5,881.6 138.5,886.8 132.1,893.1 119.1,907.0 113.9,911.7 111.1,913.7 107.5,915.6 101.9,917.7 98.8,918.4 98.3,918.2 97.9,917.7 97.8,915.9 99.9,880.0 102.1,856.1 104.7,838.3 107.3,827.6 110.3,820.2 112.1,817.3 114.0,814.9 116.6,812.6 119.5,810.6 124.3,808.0 131.2,805.0 187.8,782.3 260.9,741.0 266.9,736.5 273.5,729.1 275.0,728.1 275.3,728.3 275.5,729.4 275.4,735.3 274.4,758.3 272.9,774.2 270.9,787.6 268.5,797.8 265.4,806.8 261.8,813.9 257.2,820.4 252.7,825.1 247.7,829.2 241.5,833.5 233.7,837.9 214.8,847.1 170.8,866.4 157.0,873.4 143.1,881.3 130.8,889.0 120.6,896.2 112.5,902.9 101.4,913.0 97.7,915.8" fill="none" stroke="#000" stroke-width="1.8" stroke-linejoin="round"/>
<path d="M539.1,811.0 544.5,762.3 544.3,779.7 543.5,797.7 542.4,812.1 540.9,824.0 537.9,838.2 534.0,850.0 533.6,857.3 534.3,835.0 535.9,815.1 537.7,801.7 541.6,780.6 544.8,766.4 549.4,749.1 549.8,742.2 549.3,760.4 548.4,778.4 547.0,793.8 545.1,807.7 543.2,817.5 541.0,826.2 534.7,847.3 528.6,864.7 528.2,872.3 528.6,853.8 529.7,835.4 531.3,818.9 533.4,804.6 536.2,790.4 540.0,776.4 544.5,763.1 549.3,751.7 549.8,744.3 549.3,765.0 548.2,784.9 546.7,801.9 544.6,816.7 541.7,830.4 538.0,842.9 533.9,853.1 528.6,863.2 528.3,865.1 528.2,870.4 528.7,852.7 529.8,835.2 531.4,819.3 533.5,805.0 536.2,791.8 539.6,779.2 543.6,767.4 548.1,756.8 553.5,746.7 559.8,738.3 560.4,736.6 560.6,734.2 560.0,759.4 558.5,782.3 556.2,801.2 553.2,817.4 550.7,826.6 547.9,834.6 544.5,842.4 540.7,849.4 535.6,857.4 530.2,864.6 525.5,869.8 518.9,875.8 517.7,877.3 518.3,857.3 519.9,838.4 522.1,823.0 525.2,810.4 529.2,799.6 542.5,770.5 552.1,751.8 559.9,738.5 560.6,736.5 559.8,762.9 558.0,786.3 555.2,805.1 553.5,812.9 551.4,820.7 548.9,827.7 546.2,834.2 542.9,840.9 539.1,847.4 534.1,854.9 528.5,862.6 523.5,868.8 517.7,875.1 518.4,855.1 519.9,836.6 522.1,821.3 525.2,808.7 529.3,797.9 543.6,768.2 552.2,751.9 558.6,741.1 560.8,738.4 563.5,736.1 571.2,731.6 571.3,732.0 570.7,756.6 569.1,779.1 566.7,796.9 565.2,804.2 563.4,811.0 560.6,819.0 556.9,826.7 552.1,834.3 545.1,844.0 534.0,857.6 524.3,868.4 514.7,877.8 507.9,882.9 507.4,882.8 507.2,880.9 508.0,858.5 509.3,842.5 511.2,828.6 513.2,818.3 515.9,809.2 518.8,801.8 522.5,795.2 525.7,790.8 529.4,786.8 533.2,783.5 541.9,776.8 547.4,771.0 551.9,764.4 567.0,739.7 571.2,734.0 571.2,744.3 570.4,762.7 569.4,777.2 568.0,789.6 565.8,801.9 563.2,812.1 559.8,821.0 555.7,828.4 550.5,835.1 539.5,846.8 520.3,868.5 512.0,877.2 507.6,880.8 507.3,880.3 507.2,878.2 507.9,858.2 509.0,844.2 510.5,831.8 512.2,822.0 514.1,813.7 516.6,806.1 519.4,799.7 523.2,793.2 527.9,787.4 532.7,783.0 543.0,775.2 548.2,769.8 552.8,763.2 566.4,741.1 571.2,734.7 574.1,731.9 577.8,729.4 584.0,726.2 587.6,724.9 587.9,725.2 588.1,726.2 588.0,733.1 587.0,758.6 585.5,776.5 583.4,791.4 580.9,802.6 577.7,812.1 573.8,820.2 569.1,826.7 565.4,830.7 560.8,834.6 545.4,844.8 539.5,849.5 516.2,872.8 505.8,882.2 497.5,888.6 493.7,891.0 491.3,892.2 490.5,892.0 490.2,890.6 490.8,869.7 492.2,850.7 494.2,834.8 496.9,821.6 500.4,810.7 502.4,806.1 504.7,801.7 507.2,797.9 510.0,794.4 515.7,788.8 523.0,783.5 529.5,779.8 540.3,774.6 559.0,764.0 563.9,760.6 566.8,757.8 569.6,754.3 584.3,731.7 586.4,728.9 587.7,727.7 588.0,727.8 588.1,728.8 588.0,735.7 587.1,759.2 585.7,776.1 583.8,790.0 581.6,800.8 578.8,809.9 575.4,817.6 571.5,824.0 566.2,830.0 559.3,835.8 551.7,840.6 538.0,847.9 531.4,852.3 526.2,856.2 516.9,864.6 495.8,885.9 492.4,888.8 490.7,889.6 490.3,889.1 490.2,887.8 490.5,874.9 491.2,860.9 492.3,848.0 494.8,830.1 496.5,822.3 498.4,815.6 501.4,807.6 505.1,800.6 509.2,794.9 514.5,789.6 519.2,785.8 525.1,782.1 539.8,774.7 558.6,764.3 563.2,761.3 566.2,758.6 569.4,754.8 583.9,732.6 587.7,728.0 590.0,726.2 592.7,724.9 601.4,722.4 603.9,722.1 604.5,722.8 604.7,724.5 604.0,748.0 602.7,765.9 600.9,781.3 598.7,792.6 596.2,801.7 593.0,809.6 589.3,816.1 586.0,820.5 582.2,824.5 578.0,828.0 572.7,831.7 560.4,838.5 539.0,848.2 533.0,851.8 527.7,855.5 518.9,862.9 497.5,883.9 491.0,889.4 488.0,891.2 484.8,892.6 475.3,895.4 474.1,895.4 473.6,895.1 473.2,892.6 473.7,876.1 474.8,859.7 476.3,845.7 478.2,833.9 480.6,823.7 483.6,815.2 487.0,808.0 491.2,801.8 494.8,797.6 499.3,793.6 504.1,790.1 510.1,786.5 521.8,780.8 539.9,773.5 578.2,754.1 583.9,750.9 587.0,748.4 590.0,745.1 601.5,728.1 604.1,725.2 604.6,725.5 604.7,727.1 604.3,743.6 603.5,758.6 602.3,772.0 600.6,783.9 598.7,793.7 596.3,801.9 593.4,809.3 590.0,815.4 585.8,821.0 582.3,824.6 578.5,827.8 574.0,831.0 568.5,834.3 556.9,840.2 538.1,848.5 513.4,861.7 503.9,867.2 499.0,870.6 494.3,874.4 478.3,889.5 474.5,892.4 473.5,892.4 473.2,890.9 474.1,866.5 475.9,847.6 478.4,831.8 481.2,821.1 484.8,811.8 489.3,804.0 494.7,797.5 498.4,794.1 502.4,791.1 511.8,785.5 522.6,780.4 539.8,773.5 577.8,754.5 583.5,751.3 586.7,748.9 589.4,746.0 600.9,729.6 602.9,727.4 604.4,726.3 606.3,725.5 609.2,724.9 625.4,723.4 626.2,723.9 626.6,725.5 625.9,746.4 624.4,764.8 622.2,780.2 619.8,790.4 616.6,799.3 612.9,806.4 608.1,812.8 604.2,816.7 599.6,820.4 594.1,824.0 587.1,827.9 569.4,836.1 538.9,848.5 507.3,864.8 501.8,868.2 497.0,871.7 482.3,884.6 478.3,887.5 475.5,888.6 471.6,889.5 454.2,891.1 452.4,890.8 451.9,888.9 452.5,871.9 453.8,855.5 455.8,841.6 458.3,830.4 461.6,821.0 465.4,813.4 470.5,806.6 476.6,800.8 484.9,795.2 496.0,789.5 512.2,782.9 539.5,773.1 606.8,741.1 618.3,736.1 625.5,733.6 626.1,733.8 626.4,734.3 626.6,736.6 626.1,750.1 625.2,763.5 623.0,779.9 620.1,792.5 618.1,798.2 615.5,803.6 612.7,808.3 609.6,812.2 605.7,816.1 601.5,819.6 596.1,823.2 590.0,826.7 571.8,835.1 539.0,848.5 498.2,868.6 485.0,874.6 478.8,876.7 472.5,878.2 451.8,881.0" fill="none" stroke="#000" stroke-width="1.8" stroke-linejoin="round"/>
<text class="an" x="82.3" y="50.4" text-anchor="start">conc. cover spalls</text>
<path d="M233.8,59.5 L233.8,46.8 L190.0,46.8" fill="none" stroke="#000" stroke-width="1.6"/><path d="M186.0,46.8 L192.8,43.1 L191.3,46.8 L192.8,50.5Z" fill="#000"/>
<path d="M131.4,195.0 L92.0,195.0 L92.0,59.5" fill="none" stroke="#000" stroke-width="1.6"/><path d="M92.0,55.5 L95.7,62.3 L92.0,60.8 L88.3,62.3Z" fill="#000"/>
<path d="M128.8,175.8 L108.4,175.8 L108.4,212.5 L187.0,212.5" fill="none" stroke="#000" stroke-width="1.6"/><path d="M191.0,212.5 L184.2,216.2 L185.7,212.5 L184.2,208.8Z" fill="#000"/>
<text class="an" x="194.0" y="214.9" text-anchor="start">col. main bar buckles</text>
<path d="M238.5,79.0 L262.6,79.0 L262.6,202.0" fill="none" stroke="#000" stroke-width="1.6"/><path d="M262.6,206.0 L258.9,199.2 L262.6,200.7 L266.3,199.2Z" fill="#000"/>
<text class="an" x="603.9" y="33.7" text-anchor="start">CF rupture</text>
<path d="M620.5,60.2 L637.9,60.2 L637.9,44.0" fill="none" stroke="#000" stroke-width="1.6"/><path d="M637.9,40.0 L641.6,46.8 L637.9,45.3 L634.2,46.8Z" fill="#000"/>
<path d="M100.4,538.8 L81.8,538.8 L81.8,568.3 L182.2,568.3" fill="none" stroke="#000" stroke-width="1.6"/><path d="M186.2,568.3 L179.4,572.0 L180.9,568.3 L179.4,564.6Z" fill="#000"/>
<text class="an" x="190.5" y="561.9" text-anchor="start">col. main bar ruptures</text>
<text class="an" x="194.2" y="575.5" text-anchor="start">in tension</text>
<path d="M273.4,401.5 L297.4,401.5 L297.4,548.2" fill="none" stroke="#000" stroke-width="1.6"/><path d="M297.4,552.2 L293.7,545.4 L297.4,546.9 L301.1,545.4Z" fill="#000"/>
<path d="M596.0,395.3 L617.2,395.3" fill="none" stroke="#000" stroke-width="1.6"/><path d="M621.2,395.3 L614.4,399.0 L615.9,395.3 L614.4,391.6Z" fill="#000"/>
<path d="M596.5,418.8 L617.2,418.8" fill="none" stroke="#000" stroke-width="1.6"/><path d="M621.2,418.8 L614.4,422.5 L615.9,418.8 L614.4,415.1Z" fill="#000"/>
<text class="an" x="630.8" y="380.5" text-anchor="start">conc.</text>
<text class="an" x="630.8" y="393.9" text-anchor="start">cover</text>
<text class="an" x="630.8" y="407.3" text-anchor="start">spalls</text>
<text class="an" x="593.2" y="433.9" text-anchor="start">col. main bar</text>
<text class="an" x="593.2" y="447.3" text-anchor="start">buckles</text>
<text class="an" x="670.0" y="502.3" text-anchor="end">Concrete</text>
<text class="an" x="670.0" y="516.0" text-anchor="end">cover spalls</text>
<text class="an" x="670.0" y="529.7" text-anchor="end">followed</text>
<text class="an" x="670.0" y="543.3" text-anchor="end">by main bar</text>
<text class="an" x="670.0" y="557.0" text-anchor="end">buckling in the</text>
<text class="an" x="670.0" y="570.7" text-anchor="end">subsequent</text>
<text class="an" x="670.0" y="584.4" text-anchor="end">loading cycle</text>
<text class="an" x="318.6" y="821.8" text-anchor="end">End of</text>
<text class="an" x="318.6" y="835.6" text-anchor="end">stroke is</text>
<text class="an" x="318.6" y="849.4" text-anchor="end">reached during</text>
<text class="an" x="318.6" y="863.2" text-anchor="end">cyclic loading.</text>
<text class="an" x="318.6" y="877.0" text-anchor="end">Failed during</text>
<text class="an" x="318.6" y="890.8" text-anchor="end">subsequent</text>
<text class="an" x="318.6" y="904.6" text-anchor="end">monotonic loading</text>
<text class="an" x="318.6" y="918.4" text-anchor="end">by main bar</text>
<text class="an" x="318.6" y="932.2" text-anchor="end">buckling</text>
<path d="M627.7,732.9 L646.0,732.9 L646.0,832.4" fill="none" stroke="#000" stroke-width="1.6"/><path d="M646.0,836.4 L642.3,829.6 L646.0,831.1 L649.7,829.6Z" fill="#000"/>
<text class="an" x="669.4" y="849.6" text-anchor="end">Main bar</text>
<text class="an" x="669.4" y="863.3" text-anchor="end">buckling followed</text>
<text class="an" x="669.4" y="877.1" text-anchor="end">by main bar</text>
<text class="an" x="673.5" y="890.8" text-anchor="end">rupture in tension</text>
<text class="an" x="669.4" y="904.6" text-anchor="end">in the subsequent</text>
<text class="an" x="673.5" y="918.3" text-anchor="end">loading cycle</text>
</svg>
</body></html>
